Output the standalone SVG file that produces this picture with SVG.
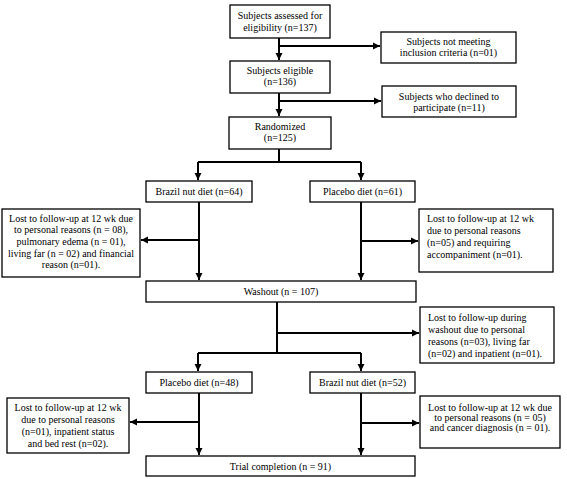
<svg xmlns="http://www.w3.org/2000/svg" width="567" height="479" viewBox="0 0 567 479" font-family="'Liberation Serif', 'Times New Roman', serif">
<defs>
<marker id="ah" markerUnits="userSpaceOnUse" markerWidth="8" markerHeight="8" refX="7" refY="4" orient="auto">
<path d="M0,0.5 L7,4 L0,7.5 Z" fill="#000"/>
</marker>
<style>
rect.b{fill:#fff;stroke:#000;stroke-width:1.3}
text{font-family:'Liberation Serif','Times New Roman',serif;font-size:10px;fill:#000}
.c{text-anchor:middle}
.l{text-anchor:start}
#connectors path{fill:none;stroke:#000;stroke-width:2}
</style>
</defs>
<rect width="567" height="479" fill="#fff"/>
<g id="connectors">
<path d="M279,38 V60" marker-end="url(#ah)"/>
<path d="M279,46 H380" marker-end="url(#ah)"/>
<path d="M279,93 V116" marker-end="url(#ah)"/>
<path d="M279,101 H381" marker-end="url(#ah)"/>
<path d="M279,149 V162"/>
<path d="M198,162 H361"/>
<path d="M198,162 V180" marker-end="url(#ah)"/>
<path d="M361,162 V180" marker-end="url(#ah)"/>
<path d="M199,202 V280" marker-end="url(#ah)"/>
<path d="M199,240 H141" marker-end="url(#ah)"/>
<path d="M361,202 V280" marker-end="url(#ah)"/>
<path d="M361,241 H418" marker-end="url(#ah)"/>
<path d="M277,302 V353"/>
<path d="M277,333 H419" marker-end="url(#ah)"/>
<path d="M198,353 H361"/>
<path d="M198,353 V371" marker-end="url(#ah)"/>
<path d="M361,353 V371" marker-end="url(#ah)"/>
<path d="M199,393 V455" marker-end="url(#ah)"/>
<path d="M199,422 H130" marker-end="url(#ah)"/>
<path d="M361,393 V455" marker-end="url(#ah)"/>
<path d="M361,423 H419" marker-end="url(#ah)"/>
</g>
<g id="assessed"><rect class="b" x="230" y="5" width="100" height="33"/>
<text class="c" x="280" y="19">Subjects assessed for</text><text class="c" x="280" y="31">eligibility (n=137)</text></g>
<g id="not-meeting"><rect class="b" x="381" y="32" width="135" height="31"/>
<text class="c" x="448.5" y="45">Subjects not meeting</text><text class="c" x="448.5" y="56">inclusion criteria (n=01)</text></g>
<g id="eligible"><rect class="b" x="230" y="61" width="100" height="32"/>
<text class="c" x="280" y="74">Subjects eligible</text><text class="c" x="280" y="85">(n=136)</text></g>
<g id="declined"><rect class="b" x="382" y="86" width="134" height="31"/>
<text class="c" x="449" y="100">Subjects who declined to</text><text class="c" x="449" y="111">participate (n=11)</text></g>
<g id="randomized"><rect class="b" x="229" y="117" width="102" height="32"/>
<text class="c" x="280" y="130">Randomized</text><text class="c" x="280" y="141">(n=125)</text></g>
<g id="brazil1"><rect class="b" x="146" y="181" width="106" height="21"/>
<text class="c" x="199" y="195">Brazil nut diet (n=64)</text></g>
<g id="placebo1"><rect class="b" x="310" y="181" width="105" height="21"/>
<text class="c" x="362.5" y="195">Placebo diet (n=61)</text></g>
<g id="lost1"><rect class="b" x="2" y="209" width="138" height="68"/>
<text class="c" x="71" y="221.5">Lost to follow-up at 12 wk due</text>
<text class="c" x="71" y="233">to personal reasons (n = 08),</text>
<text class="c" x="71" y="245">pulmonary edema (n = 01),</text>
<text class="c" x="71" y="256.5">living far (n = 02) and financial</text>
<text class="c" x="71" y="268">reason (n=01).</text></g>
<g id="lost2"><rect class="b" x="419" y="209" width="134" height="63"/>
<text class="l" x="427" y="221.5">Lost to follow-up at 12 wk</text>
<text class="l" x="427" y="233.5">due to personal reasons</text>
<text class="l" x="427" y="245.5">(n=05) and requiring</text>
<text class="l" x="427" y="257.5">accompaniment (n=01).</text></g>
<g id="washout"><rect class="b" x="146" y="281" width="270" height="21"/>
<text class="c" x="281" y="294.5">Washout (n = 107)</text></g>
<g id="lost-washout"><rect class="b" x="420" y="307" width="134" height="56"/>
<text class="l" x="428" y="320.5">Lost to follow-up during</text>
<text class="l" x="428" y="332.5">washout due to personal</text>
<text class="l" x="428" y="344.5">reasons (n=03), living far</text>
<text class="l" x="428" y="356.5">(n=02) and inpatient (n=01).</text></g>
<g id="placebo2"><rect class="b" x="146" y="372" width="106" height="21"/>
<text class="c" x="199" y="386">Placebo diet (n=48)</text></g>
<g id="brazil2"><rect class="b" x="310" y="372" width="105" height="21"/>
<text class="c" x="362.5" y="386">Brazil nut diet (n=52)</text></g>
<g id="lost3"><rect class="b" x="7" y="398" width="122" height="55"/>
<text class="c" x="68" y="411">Lost to follow-up at 12 wk</text>
<text class="c" x="68" y="423">due to personal reasons</text>
<text class="c" x="68" y="435">(n=01), inpatient status</text>
<text class="c" x="68" y="447">and bed rest (n=02).</text></g>
<g id="lost4"><rect class="b" x="420" y="396" width="140" height="52"/>
<text class="c" x="490" y="410.5">Lost to follow-up at 12 wk due</text>
<text class="c" x="490" y="420.5">to personal reasons (n = 05)</text>
<text class="c" x="490" y="430.5">and cancer diagnosis (n = 01).</text></g>
<g id="completion"><rect class="b" x="146" y="456" width="269" height="20"/>
<text class="c" x="280.5" y="469.5">Trial completion (n = 91)</text></g>
</svg>
